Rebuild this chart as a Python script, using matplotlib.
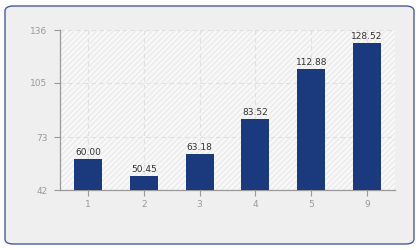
import matplotlib.pyplot as plt
from matplotlib.patches import FancyBboxPatch, Rectangle

# dados do gráfico
categorias = ["1", "2", "3", "4", "5", "9"]
valores = [60.00, 50.45, 63.18, 83.52, 112.88, 128.52]
yticks = [42, 73, 105, 136]

cor_barra = "#1b3a7e"
cor_texto = "#999999"

fig = plt.figure(figsize=(4.2, 2.5), dpi=100)
fig.patch.set_facecolor("white")

# moldura arredondada (atrás dos eixos)
moldura = FancyBboxPatch((5 / 420, 6 / 250), 409 / 420, 238 / 250,
                         boxstyle="round,pad=0,rounding_size=0.02",
                         transform=fig.transFigure, facecolor="#efefef",
                         edgecolor="#4a5aa0", linewidth=1.0, zorder=-10)
fig.add_artist(moldura)

ax = fig.add_axes([60 / 420, 60 / 250, 335 / 420, 160 / 250])
ax.set_zorder(1)
ax.set_facecolor("#f8f8f8")

x = list(range(len(categorias)))
ax.set_xlim(-0.5, len(categorias) - 0.5)
ax.set_ylim(42, 136)

# hachura leve no fundo
ax.add_patch(Rectangle((0, 0), 1, 1, transform=ax.transAxes, facecolor="none",
                       edgecolor="#ebebeb", hatch="//////", linewidth=0, zorder=0))

ax.grid(True, color="#e0e0e0", linestyle=(0, (4, 3)), linewidth=0.8, zorder=1)
ax.set_axisbelow(True)

ax.bar(x, valores, width=0.5, color=cor_barra, zorder=3)
for xi, v in zip(x, valores):
    ax.text(xi, v + 1.2, f"{v:.2f}", ha="center", va="bottom", fontsize=6.5,
            color="#333333", zorder=4)

ax.set_xticks(x)
ax.set_xticklabels(categorias)
ax.set_yticks(yticks)
ax.tick_params(axis="both", colors="#999999", labelcolor=cor_texto, labelsize=6.5,
               length=4, width=0.8)
ax.tick_params(axis="y", pad=5)
ax.tick_params(axis="x", pad=3)

for lado in ["top", "right"]:
    ax.spines[lado].set_visible(False)
for lado in ["left", "bottom"]:
    ax.spines[lado].set_color("#999999")
    ax.spines[lado].set_linewidth(0.9)

fig.savefig("out.png", dpi=100)
